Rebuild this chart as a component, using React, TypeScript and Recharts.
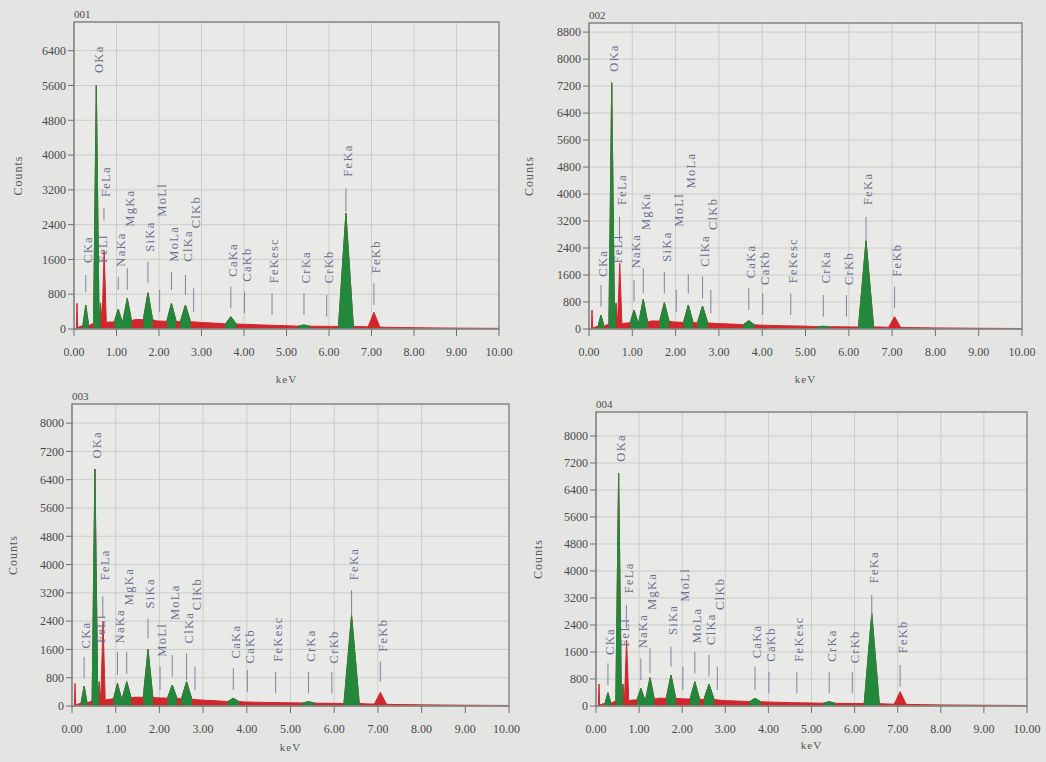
import React from "react";
import {
  Area,
  CartesianGrid,
  ComposedChart,
  ReferenceArea,
  ReferenceLine,
  Scatter,
  XAxis,
  YAxis,
} from "recharts";

const RED = "#d1262c";
const GREEN = "#22883b";
const TAG_INK = "#6a6e8c";
const MARK_INK = "#80839a";
const FRAME = "#858685";
const GRID = "#cbcdca";
const PAGE_BG = "#e4e5e3";
const PLOT_BG = "#e9eae7";
const SERIF = "'Liberation Serif', 'DejaVu Serif', serif";

// Line energies in keV for every identified line
const LINE_KEV: Record<string, number> = {
  CKa: 0.277,
  OKa: 0.525,
  FeLl: 0.615,
  FeLa: 0.705,
  NaKa: 1.041,
  MgKa: 1.253,
  SiKa: 1.74,
  MoLl: 2.015,
  MoLa: 2.293,
  ClKa: 2.622,
  ClKb: 2.815,
  CaKa: 3.69,
  CaKb: 4.012,
  FeKesc: 4.66,
  CrKa: 5.411,
  CrKb: 5.946,
  FeKa: 6.398,
  FeKb: 7.057,
};

const KEV_TICKS = [0, 1, 2, 3, 4, 5, 6, 7, 8, 9, 10];
const COUNT_TICKS_001 = [0, 800, 1600, 2400, 3200, 4000, 4800, 5600, 6400];
const COUNT_TICKS_002 = [0, 800, 1600, 2400, 3200, 4000, 4800, 5600, 6400, 7200, 8000, 8800];
const COUNT_TICKS_034 = [0, 800, 1600, 2400, 3200, 4000, 4800, 5600, 6400, 7200, 8000];

type Peak = { at: number; top: number; floor: number; half: number; roi: boolean };
// [line, text start (counts), marker top, marker bottom]
type Tag = [string, number, number?, number?];

// continuum (keV, counts)
const BG_001 = [
  [0, 0], [0.045, 0], [0.1, 40], [0.18, 70], [0.4, 110], [0.8, 160], [0.9, 160],
  [1.45, 220], [1.6, 215], [1.95, 185], [2.1, 180], [2.45, 170], [2.85, 160], [3.0, 150],
  [3.4, 130], [3.95, 110], [4.5, 90], [5.0, 75], [5.6, 65], [6.05, 60], [6.75, 55],
  [6.9, 50], [7.3, 40], [8, 30], [9, 20], [10, 15],
];
const BG_002 = [
  [0, 0], [0.045, 0], [0.1, 40], [0.18, 70], [0.4, 120], [0.8, 170], [0.9, 180],
  [1.45, 240], [1.6, 235], [1.95, 210], [2.1, 200], [2.45, 185], [2.85, 170], [3.0, 160],
  [3.4, 140], [3.95, 115], [4.5, 95], [5.0, 85], [5.6, 70], [6.05, 62], [6.75, 58],
  [6.9, 52], [7.3, 42], [8, 32], [9, 22], [10, 15],
];
const BG_003 = [
  [0, 0], [0.045, 0], [0.1, 40], [0.18, 70], [0.4, 120], [0.8, 180], [0.9, 200],
  [1.45, 250], [1.6, 245], [1.95, 230], [2.1, 225], [2.45, 210], [2.85, 180], [3.0, 165],
  [3.4, 140], [3.95, 115], [4.5, 100], [5.0, 90], [5.6, 80], [6.05, 75], [6.75, 60],
  [6.9, 55], [7.3, 45], [8, 32], [9, 22], [10, 15],
];
const BG_004 = [
  [0, 0], [0.045, 0], [0.1, 40], [0.18, 70], [0.4, 120], [0.8, 170], [0.9, 180],
  [1.45, 230], [1.6, 230], [1.95, 215], [2.1, 210], [2.45, 195], [2.85, 175], [3.0, 160],
  [3.4, 140], [3.95, 120], [4.5, 100], [5.0, 90], [5.6, 80], [6.05, 75], [6.75, 60],
  [6.9, 55], [7.3, 45], [8, 32], [9, 22], [10, 15],
];

const PEAKS_001: Peak[] = [
  { at: 0.07, top: 590, floor: 0, half: 0.015, roi: false },
  { at: 0.277, top: 550, floor: 70, half: 0.07, roi: true },
  { at: 0.525, top: 5600, floor: 120, half: 0.065, roi: true },
  { at: 0.625, top: 600, floor: 130, half: 0.035, roi: true },
  { at: 0.71, top: 1800, floor: 140, half: 0.05, roi: false },
  { at: 1.041, top: 453, floor: 170, half: 0.09, roi: true },
  { at: 1.253, top: 706, floor: 190, half: 0.1, roi: true },
  { at: 1.74, top: 835, floor: 210, half: 0.11, roi: true },
  { at: 2.293, top: 590, floor: 175, half: 0.11, roi: true },
  { at: 2.622, top: 552, floor: 165, half: 0.12, roi: true },
  { at: 3.69, top: 283, floor: 115, half: 0.13, roi: true },
  { at: 5.411, top: 92, floor: 65, half: 0.14, roi: true },
  { at: 6.398, top: 2660, floor: 58, half: 0.175, roi: true },
  { at: 7.057, top: 384, floor: 45, half: 0.14, roi: false },
];
const PEAKS_002: Peak[] = [
  { at: 0.07, top: 560, floor: 0, half: 0.015, roi: false },
  { at: 0.277, top: 415, floor: 75, half: 0.07, roi: true },
  { at: 0.525, top: 7300, floor: 130, half: 0.065, roi: true },
  { at: 0.625, top: 770, floor: 140, half: 0.035, roi: true },
  { at: 0.71, top: 1950, floor: 150, half: 0.05, roi: false },
  { at: 1.041, top: 563, floor: 190, half: 0.09, roi: true },
  { at: 1.253, top: 879, floor: 210, half: 0.1, roi: true },
  { at: 1.74, top: 780, floor: 225, half: 0.11, roi: true },
  { at: 2.293, top: 711, floor: 195, half: 0.11, roi: true },
  { at: 2.622, top: 681, floor: 180, half: 0.12, roi: true },
  { at: 3.69, top: 247, floor: 125, half: 0.13, roi: true },
  { at: 5.411, top: 80, floor: 68, half: 0.14, roi: true },
  { at: 6.398, top: 2620, floor: 60, half: 0.175, roi: true },
  { at: 7.057, top: 365, floor: 48, half: 0.14, roi: false },
];
const PEAKS_003: Peak[] = [
  { at: 0.07, top: 640, floor: 0, half: 0.015, roi: false },
  { at: 0.277, top: 565, floor: 75, half: 0.07, roi: true },
  { at: 0.525, top: 6700, floor: 130, half: 0.065, roi: true },
  { at: 0.625, top: 690, floor: 150, half: 0.035, roi: true },
  { at: 0.71, top: 2400, floor: 160, half: 0.05, roi: false },
  { at: 1.041, top: 640, floor: 210, half: 0.09, roi: true },
  { at: 1.253, top: 687, floor: 230, half: 0.1, roi: true },
  { at: 1.74, top: 1600, floor: 240, half: 0.11, roi: true },
  { at: 2.293, top: 593, floor: 218, half: 0.11, roi: true },
  { at: 2.622, top: 687, floor: 195, half: 0.12, roi: true },
  { at: 3.69, top: 217, floor: 125, half: 0.13, roi: true },
  { at: 5.411, top: 121, floor: 85, half: 0.14, roi: true },
  { at: 6.398, top: 2570, floor: 70, half: 0.175, roi: true },
  { at: 7.057, top: 386, floor: 50, half: 0.14, roi: false },
];
const PEAKS_004: Peak[] = [
  { at: 0.07, top: 650, floor: 0, half: 0.015, roi: false },
  { at: 0.277, top: 395, floor: 75, half: 0.07, roi: true },
  { at: 0.525, top: 6900, floor: 130, half: 0.065, roi: true },
  { at: 0.625, top: 650, floor: 140, half: 0.035, roi: true },
  { at: 0.71, top: 1950, floor: 150, half: 0.05, roi: false },
  { at: 1.041, top: 524, floor: 185, half: 0.09, roi: true },
  { at: 1.253, top: 840, floor: 205, half: 0.1, roi: true },
  { at: 1.74, top: 919, floor: 228, half: 0.11, roi: true },
  { at: 2.293, top: 721, floor: 205, half: 0.11, roi: true },
  { at: 2.622, top: 652, floor: 188, half: 0.12, roi: true },
  { at: 3.69, top: 227, floor: 128, half: 0.13, roi: true },
  { at: 5.411, top: 128, floor: 82, half: 0.14, roi: true },
  { at: 6.398, top: 2746, floor: 70, half: 0.175, roi: true },
  { at: 7.057, top: 425, floor: 50, half: 0.14, roi: false },
];

const TAGS_001: Tag[] = [
  ["CKa", 1518, 1242, 851], ["OKa", 5888], ["FeLl", 1518], ["FeLa", 3036, 2780, 2500],
  ["NaKa", 1433, 1203, 897], ["MgKa", 2353, 1403, 897], ["SiKa", 1778, 1548, 1051],
  ["MoLl", 2583, 897, 398], ["MoLa", 1548, 1318, 897], ["ClKa", 1548, 1242, 782],
  ["ClKb", 2316, 936, 398], ["CaKa", 1203, 973, 475], ["CaKb", 1088, 858, 361],
  ["FeKesc", 1050, 821, 322], ["CrKa", 1050, 821, 322], ["CrKb", 1050, 782, 283],
  ["FeKa", 3503, 3236, 2700], ["FeKb", 1281, 1051, 552],
];
const TAGS_002: Tag[] = [
  ["CKa", 1550, 1304, 660], ["OKa", 7624], ["FeLl", 1946], ["FeLa", 3674, 3330, 2600],
  ["NaKa", 1798, 1452, 809], ["MgKa", 2933, 1798, 1058], ["SiKa", 1995, 1699, 1058],
  ["MoLl", 3032, 1156, 513], ["MoLa", 4168, 1630, 1058], ["ClKa", 1847, 1550, 909],
  ["ClKb", 2933, 1156, 464], ["CaKa", 1502, 1205, 563], ["CaKb", 1304, 1058, 415],
  ["FeKesc", 1353, 1058, 415], ["CrKa", 1353, 1007, 365], ["CrKb", 1304, 1007, 365],
  ["FeKa", 3674, 3328, 2637], ["FeKb", 1550, 1254, 613],
];
const TAGS_003: Tag[] = [
  ["CKa", 1629, 1393, 781], ["OKa", 6996], ["FeLl", 1780], ["FeLa", 3558, 3100, 2500],
  ["NaKa", 1770, 1534, 875], ["MgKa", 2852, 1534, 904], ["SiKa", 2759, 2476, 1912],
  ["MoLl", 1393, 1110, 452], ["MoLa", 2429, 1440, 828], ["ClKa", 1770, 1488, 734],
  ["ClKb", 2711, 1110, 452], ["CaKa", 1346, 1064, 452], ["CaKb", 1205, 1017, 405],
  ["FeKesc", 1252, 969, 358], ["CrKa", 1252, 969, 358], ["CrKb", 1205, 969, 358],
  ["FeKa", 3558, 3276, 2570], ["FeKb", 1534, 1252, 687],
];
const TAGS_004: Tag[] = [
  ["CKa", 1511, 1264, 622], ["OKa", 7239], ["FeLl", 1758], ["FeLa", 3338, 3000, 2300],
  ["NaKa", 1709, 1412, 770], ["MgKa", 2844, 1709, 968], ["SiKa", 2104, 1758, 1166],
  ["MoLl", 3091, 1166, 474], ["MoLa", 1857, 1610, 968], ["ClKa", 1808, 1511, 869],
  ["ClKb", 2844, 1166, 474], ["CaKa", 1412, 1166, 474], ["CaKb", 1314, 1017, 375],
  ["FeKesc", 1314, 1017, 375], ["CrKa", 1314, 1017, 375], ["CrKb", 1264, 1017, 375],
  ["FeKa", 3634, 3289, 2548], ["FeKb", 1561, 1215, 573],
];

const Y_AXIS_W = 60;

// page placement of each spectrum: box = svg frame, plot = axes rectangle
const PANELS = [
  {
    title: "001", yMax: 7060, yTicks: COUNT_TICKS_001, bg: BG_001, peaks: PEAKS_001, tags: TAGS_001,
    box: { left: 0, top: 0, width: 520, height: 392 },
    plot: { left: 74, top: 22, right: 499, bottom: 329 }, xAxisH: 56, countsX: 18,
  },
  {
    title: "002", yMax: 9070, yTicks: COUNT_TICKS_002, bg: BG_002, peaks: PEAKS_002, tags: TAGS_002,
    box: { left: 520, top: 0, width: 526, height: 392 },
    plot: { left: 589, top: 23, right: 1022, bottom: 329 }, xAxisH: 56, countsX: 529,
  },
  {
    title: "003", yMax: 8540, yTicks: COUNT_TICKS_034, bg: BG_003, peaks: PEAKS_003, tags: TAGS_003,
    box: { left: 0, top: 380, width: 520, height: 382 },
    plot: { left: 72, top: 404, right: 509, bottom: 706 }, xAxisH: 47, countsX: 13,
  },
  {
    title: "004", yMax: 8710, yTicks: COUNT_TICKS_034, bg: BG_004, peaks: PEAKS_004, tags: TAGS_004,
    box: { left: 520, top: 380, width: 526, height: 382 },
    plot: { left: 596, top: 412, right: 1027, bottom: 706 }, xAxisH: 45, countsX: 538,
  },
];

type Pt = { x: number; y: number; g: number | null; k: number };

// merge continuum and peak outlines into one sorted trace; g holds the fitted (green) part
function buildTrace(bg: number[][], peaks: Peak[]) {
  const pts: Pt[] = [];
  bg.forEach(([x, y]) => {
    const inside = peaks.some((p) => x > p.at - p.half && x < p.at + p.half);
    if (!inside) pts.push({ x, y, g: null, k: 1 });
  });
  peaks.forEach((p) => {
    pts.push({ x: p.at - p.half, y: p.floor, g: p.roi ? p.floor : null, k: 1 });
    pts.push({ x: p.at, y: p.top, g: p.roi ? p.top : null, k: 1 });
    pts.push({ x: p.at + p.half, y: p.floor, g: p.roi ? p.floor : null, k: 0 });
  });
  return pts.sort((a, b) => a.x - b.x || a.k - b.k);
}

function TagText(props: any) {
  const { cx, cy, payload } = props;
  if (cx == null || cy == null) return null;
  const x = cx + 2;
  return (
    <text
      x={x}
      y={cy}
      dy="0.35em"
      transform={`rotate(-90 ${x} ${cy})`}
      fontSize={12.5}
      fontFamily={SERIF}
      letterSpacing={1.3}
      fill={TAG_INK}
    >
      {payload.name}
    </text>
  );
}

function Spectrum({ panel }: { panel: (typeof PANELS)[number] }) {
  const { box, plot, xAxisH } = panel;
  const margin = {
    top: plot.top - box.top,
    left: plot.left - box.left - Y_AXIS_W,
    right: box.left + box.width - plot.right,
    bottom: box.top + box.height - plot.bottom - xAxisH,
  };
  const trace = buildTrace(panel.bg, panel.peaks);
  const tagPoints = panel.tags.map(([name, at]) => ({ x: LINE_KEV[name], y: at, name }));
  const markers = panel.tags.filter((t) => t[2] != null && t[3] != null);
  const tick = { fill: "#4a4a4a", fontSize: 12, fontFamily: SERIF };

  return (
    <div style={{ position: "absolute", left: box.left, top: box.top }}>
      <ComposedChart width={box.width} height={box.height} data={trace} margin={margin}>
        <CartesianGrid stroke={GRID} fill={PLOT_BG} />
        <XAxis
          type="number"
          dataKey="x"
          domain={[0, 10]}
          ticks={KEV_TICKS}
          allowDataOverflow
          tickFormatter={(v: number) => v.toFixed(2)}
          tick={tick}
          tickSize={7}
          tickMargin={11}
          tickLine={{ stroke: "#6f6f6f" }}
          axisLine={{ stroke: FRAME }}
          height={xAxisH}
          label={{
            value: "keV",
            position: "insideBottom",
            offset: 2,
            style: { fontSize: 11, fontFamily: SERIF, fill: "#555", letterSpacing: 1 },
          }}
        />
        <YAxis
          type="number"
          domain={[0, panel.yMax]}
          ticks={panel.yTicks}
          allowDataOverflow
          tick={tick}
          tickSize={6}
          tickLine={{ stroke: "#6f6f6f" }}
          axisLine={{ stroke: FRAME }}
          width={Y_AXIS_W}
          label={{
            value: "Counts",
            angle: -90,
            position: "insideLeft",
            offset: panel.countsX - box.left - margin.left,
            style: { textAnchor: "middle", fontSize: 12, fontFamily: SERIF, fill: "#555", letterSpacing: 1 },
          }}
        />
        <Scatter data={tagPoints} dataKey="y" shape={TagText} isAnimationActive={false} />
        <Area
          type="linear"
          dataKey="y"
          stroke={RED}
          strokeWidth={1}
          fill={RED}
          fillOpacity={1}
          isAnimationActive={false}
        />
        <Area
          type="linear"
          dataKey="g"
          stroke={GREEN}
          strokeWidth={1}
          fill={GREEN}
          fillOpacity={1}
          isAnimationActive={false}
        />
        {markers.map(([name, , top, bottom]) => (
          <ReferenceLine
            key={name}
            segment={[
              { x: LINE_KEV[name], y: bottom as number },
              { x: LINE_KEV[name], y: top as number },
            ]}
            stroke={MARK_INK}
            strokeWidth={1}
          />
        ))}
        <ReferenceArea x1={0} x2={10} y1={0} y2={panel.yMax} fill="none" stroke={FRAME} strokeWidth={1.3} />
        <text
          x={plot.left - box.left}
          y={margin.top - 4}
          fontSize={11}
          fontFamily={SERIF}
          fill="#4a4a4a"
        >
          {panel.title}
        </text>
      </ComposedChart>
    </div>
  );
}

export default function App() {
  return (
    <div
      style={{
        position: "absolute",
        left: 0,
        top: 0,
        width: 1046,
        height: 762,
        background: PAGE_BG,
        overflow: "hidden",
      }}
    >
      {PANELS.map((p) => (
        <Spectrum key={p.title} panel={p} />
      ))}
    </div>
  );
}
